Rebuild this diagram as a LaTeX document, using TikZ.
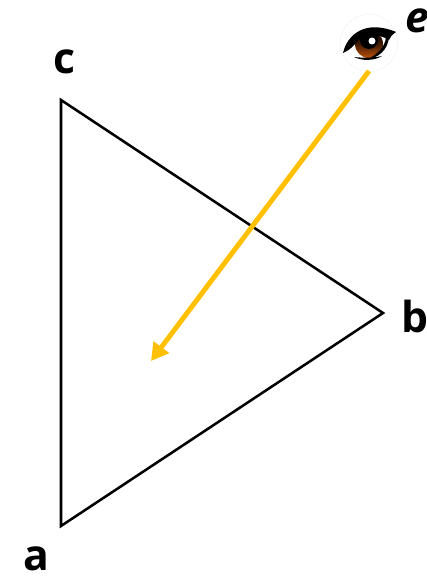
\documentclass[tikz,border=0pt]{standalone}
\usepackage{fontspec}
\setmainfont{Open Sans}
\usetikzlibrary{arrows.meta,positioning}
\definecolor{rayorange}{RGB}{255,192,0}
\definecolor{irisbrown}{RGB}{190,80,10}
\tikzset{
  edge/.style={draw,line width=1.9pt,line join=miter},
  vertex/.style={font=\fontsize{32}{32}\selectfont\bfseries,inner sep=0pt},
  ray/.style={draw=rayorange,line width=3.7pt,-{Triangle[length=13pt,width=14pt]}},
  eyering/.style={circle,draw=black!15,line width=0.4pt,densely dotted,minimum size=43pt,inner sep=0pt},
  lid/.style={fill=black,draw=none}
}
\begin{document}
\begin{tikzpicture}[x=0.75pt,y=-0.75pt]
  \useasboundingbox (0,0) rectangle (426,577);
  \coordinate (a) at (61,526);
  \coordinate (b) at (383,313);
  \coordinate (c) at (61,100);
  \draw[edge] (a) -- (b) -- (c) -- cycle;
  \node[vertex] (alabel) at (36,558.5) {a};
  \node[vertex] (blabel) at (414.5,316) {b};
  \node[vertex] (clabel) at (64,62) {c};
  % viewer
  \node[eyering] (eye) at (369,43) {};
  \node[vertex,font=\fontsize{32}{32}\selectfont\bfseries\itshape] (elabel) at (417.5,21) {e};
  \shade[top color=black,bottom color=irisbrown,middle color=irisbrown!35!black] (369,44) circle (14);
  \fill[black] (369,40) circle (9);
  \fill[white] (372,41) circle (3.5);
  \fill[lid] (343,53) .. controls (347,35) and (365,19) .. (396,32)
    .. controls (392,35) and (390,37) .. (389,40)
    .. controls (378,33) and (362,33) .. (355,44)
    .. controls (351,49) and (347,51) .. (343,53) -- cycle;
  \fill[lid] (389,37) .. controls (388,50) and (378,58) .. (368,59)
    .. controls (376,55) and (385,48) .. (386,37) -- cycle;
  \fill[lid] (354,57) .. controls (362,61) and (374,61) .. (382,56)
    .. controls (374,58) and (362,58) .. (354,57) -- cycle;
  % ray
  \coordinate (raystart) at (369,71);
  \coordinate (rayend) at (151,361);
  \draw[ray] (raystart) -- (rayend);
\end{tikzpicture}
\end{document}
